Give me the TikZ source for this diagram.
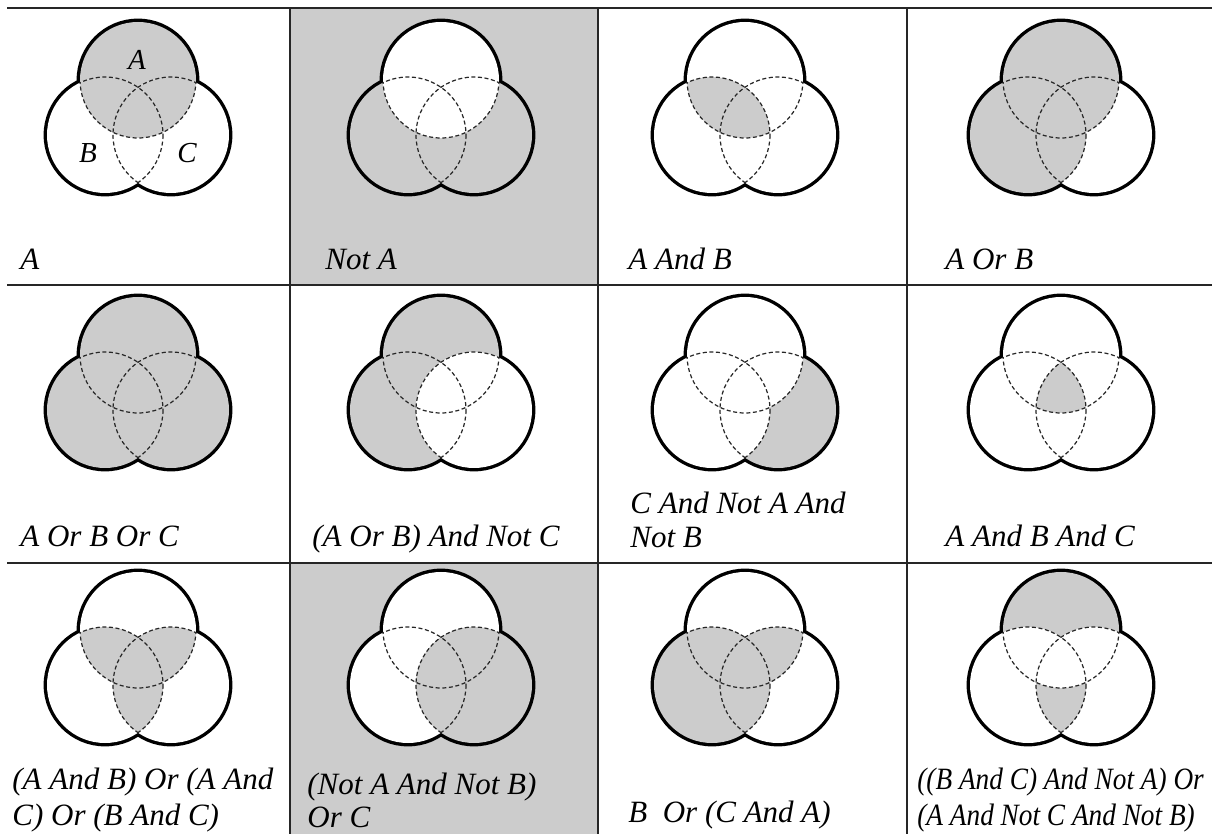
\documentclass[tikz,border=0pt]{standalone}
\usepackage{fontspec}
\setmainfont{Liberation Serif}
\definecolor{vg}{gray}{0.80}
\colorlet{vw}{white}
\tikzset{
  outerline/.style={draw=black, line width=3.4pt},
  innerline/.style={draw=black!85, line width=0.6pt, dash pattern=on 2pt off 1.3pt},
  gridline/.style={draw=black!85, line width=1pt},
  cellbg/.style={fill=vg},
  lbl/.style={anchor=base west, inner sep=0pt, font=\fontsize{15.5}{17.5}\selectfont\itshape},
  inlbl/.style={inner sep=0pt, font=\fontsize{14.5}{17}\selectfont\itshape},
}
\newcommand\vennR{58}
% #1,#2 centre of circle A; #3..#9 colours of regions A, B, C, AB, AC, BC, ABC
\newcommand\venn[9]{%
  \coordinate (VA) at (#1,#2);
  \coordinate (VB) at ({#1-33},{#2+55});
  \coordinate (VC) at ({#1+33},{#2+55});
  \draw[outerline] (VA) circle[radius=\vennR] (VB) circle[radius=\vennR] (VC) circle[radius=\vennR];
  \fill[#3] (VA) circle[radius=\vennR];
  \fill[#4] (VB) circle[radius=\vennR];
  \fill[#5] (VC) circle[radius=\vennR];
  \begin{scope}\clip (VA) circle[radius=\vennR]; \fill[#6] (VB) circle[radius=\vennR];\end{scope}
  \begin{scope}\clip (VA) circle[radius=\vennR]; \fill[#7] (VC) circle[radius=\vennR];\end{scope}
  \begin{scope}\clip (VB) circle[radius=\vennR]; \fill[#8] (VC) circle[radius=\vennR];\end{scope}
  \begin{scope}\clip (VA) circle[radius=\vennR]; \clip (VB) circle[radius=\vennR]; \fill[#9] (VC) circle[radius=\vennR];\end{scope}
  \begin{scope}\clip (VB) circle[radius=\vennR] (VC) circle[radius=\vennR]; \draw[innerline] (VA) circle[radius=\vennR];\end{scope}
  \begin{scope}\clip (VA) circle[radius=\vennR] (VC) circle[radius=\vennR]; \draw[innerline] (VB) circle[radius=\vennR];\end{scope}
  \begin{scope}\clip (VA) circle[radius=\vennR] (VB) circle[radius=\vennR]; \draw[innerline] (VC) circle[radius=\vennR];\end{scope}
}
\begin{document}
\begin{tikzpicture}[x=0.5pt,y=-0.5pt]
\useasboundingbox (0,0) rectangle (1212,834);
\fill[white] (0,0) rectangle (1212,834);
% grey cell backgrounds
\fill[cellbg] (290,8) rectangle (598,285);
\fill[cellbg] (290,563) rectangle (598,834);
% row 1
\venn{138}{80}{vg}{vw}{vw}{vg}{vg}{vw}{vg}
\venn{441}{80}{vw}{vg}{vg}{vw}{vw}{vg}{vw}
\venn{745}{80}{vw}{vw}{vw}{vg}{vw}{vw}{vg}
\venn{1061}{80}{vg}{vg}{vw}{vg}{vg}{vg}{vg}
% row 2
\venn{138}{355}{vg}{vg}{vg}{vg}{vg}{vg}{vg}
\venn{441}{355}{vg}{vg}{vw}{vg}{vw}{vw}{vw}
\venn{745}{355}{vw}{vw}{vg}{vw}{vw}{vw}{vw}
\venn{1061}{355}{vw}{vw}{vw}{vw}{vw}{vw}{vg}
% row 3
\venn{138}{630}{vw}{vw}{vw}{vg}{vg}{vg}{vg}
\venn{441}{630}{vw}{vw}{vg}{vw}{vg}{vg}{vg}
\venn{745}{630}{vw}{vg}{vw}{vg}{vg}{vg}{vg}
\venn{1061}{630}{vg}{vw}{vw}{vw}{vw}{vg}{vw}
% circle letters in first cell
\node[inlbl] (la) at (137,60) {A};
\node[inlbl] (lb) at (88,153) {B};
\node[inlbl] (lc) at (187,153) {C};
% grid
\draw[gridline] (7,8) -- (1212,8);
\draw[gridline] (7,285) -- (1212,285);
\draw[gridline] (7,563) -- (1212,563);
\draw[gridline] (290,8) -- (290,834);
\draw[gridline] (598,8) -- (598,834);
\draw[gridline] (907,8) -- (907,834);
% labels row 1
\node[lbl] (t1) at (20,270) {A};
\node[lbl] (t2) at (325,270) {Not A};
\node[lbl] (t3) at (628,270) {A And B};
\node[lbl] (t4) at (945,270) {A Or B};
% labels row 2
\node[lbl] (t5) at (20,547) {A Or B Or C};
\node[lbl] (t6) at (312,547) {(A Or B) And Not C};
\node[lbl] (t7a) at (630,514) {C And Not A And};
\node[lbl] (t7b) at (630,548) {Not B};
\node[lbl] (t8) at (945,547) {A And B And C};
% labels row 3
\node[lbl] (t9a) at (12,789) {(A And B) Or (A And};
\node[lbl] (t9b) at (12,825) {C) Or (B And C)};
\node[lbl] (t10a) at (307,794) {(Not A And Not B)};
\node[lbl] (t10b) at (307,827) {Or C};
\node[lbl] (t11) at (628,822) {B\ \ Or (C And A)};
\node[lbl] (t12a) at (917,789) {\scalebox{0.88}[1]{((B And C) And Not A) Or}};
\node[lbl] (t12b) at (917,825) {\scalebox{0.88}[1]{(A And Not C And Not B)}};
\end{tikzpicture}
\end{document}
